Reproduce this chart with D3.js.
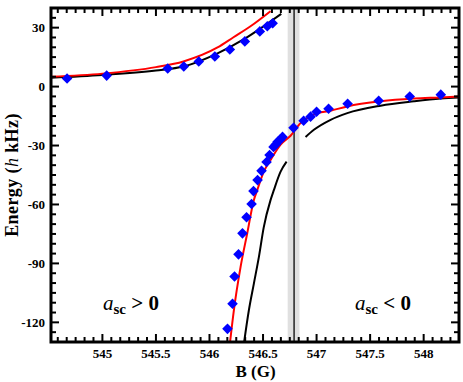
<!DOCTYPE html>
<meta charset="utf-8">
<script src="https://d3js.org/d3.v7.min.js"></script>
<style>
  body { margin: 0; background: #fff; }
  text { font-family: "Liberation Serif", "DejaVu Serif", serif; font-weight: bold; }
</style>
<div id="chart"></div>
<script>

// measured points (B in G, energy in h kHz)
var upperB = [544.67, 545.04, 545.61, 545.76, 545.90, 546.05, 546.19, 546.33, 546.47, 546.54, 546.59];
var upperE = [4.1, 5.6, 9.2, 10.2, 12.8, 15.3, 18.9, 23.0, 28.1, 30.7, 32.2];

var lowerB = [546.168, 546.215, 546.234, 546.271, 546.308, 546.346, 546.393, 546.411, 546.449, 546.486,
              546.533, 546.561, 546.598, 546.62, 546.636, 546.66, 546.682, 546.785, 546.879, 546.944,
              547.0, 547.112, 547.29, 547.58, 547.87, 548.16];
var lowerE = [-123.3, -110.5, -96.7, -85.4, -74.7, -66.5, -59.8, -53.2, -47.6, -42.9,
              -38.4, -34.8, -30.7, -29.5, -28.1, -27.0, -25.6, -21.0, -17.4, -15.3,
              -12.8, -11.3, -8.7, -7.2, -5.1, -4.1];

// theory curves
var redUpper = [[544.52, 5.0], [545.0, 6.6], [545.5, 9.9], [545.757, 12.8], [546.075, 19.9],
                [546.224, 25.1], [546.383, 30.7], [546.57, 38.4]];
var blackUpper = [[544.52, 4.5], [545.0, 5.9], [545.5, 8.2], [545.757, 10.2], [546.075, 16.9],
                  [546.318, 24.0], [546.505, 30.7], [546.67, 37.0]];
var redLower = [[546.19, -131], [546.227, -114.1], [546.29, -91.9], [546.352, -74.8], [546.414, -57.8],
                [546.446, -52.7], [546.507, -43.3], [546.57, -37.3], [546.664, -29.5], [546.757, -25.0],
                [546.85, -18.6], [546.972, -14.3], [547.131, -12.3], [547.287, -10.1], [547.598, -7.5],
                [547.907, -6.1], [548.159, -5.5], [548.346, -5.0]];
var blackLowerLeft = [[546.321, -131], [546.367, -114.1], [546.414, -100.4], [546.461, -86.8],
                      [546.507, -71.5], [546.57, -57.8], [546.601, -52.7], [546.664, -43.3], [546.72, -38.2]];
var blackLowerRight = [[546.897, -25.7], [546.975, -22.0], [547.131, -16.9], [547.287, -13.5],
                       [547.598, -9.7], [547.909, -7.5], [548.159, -6.1], [548.346, -5.5]];

var resonanceB = 546.79;
var bandB = [546.73, 546.84];

var xTicks = [545, 545.5, 546, 546.5, 547, 547.5, 548];
var yTicks = [-120, -90, -60, -30, 0, 30];

var margin = {top: 8, right: 4, bottom: 40, left: 51},
    width = 463 - margin.left - margin.right,
    height = 382 - margin.top - margin.bottom;

var svg = d3.select("#chart").append("svg")
    .attr("width", 463)
    .attr("height", 382)
  .append("g")
    .attr("transform", "translate(" + margin.left + "," + margin.top + ")");

var x = d3.scaleLinear().domain([544.52, 548.33]).range([0, width]);
var y = d3.scaleLinear().domain([-130, 40]).range([height, 0]);

svg.append("clipPath").attr("id", "clip")
  .append("rect").attr("width", width).attr("height", height);

// shaded resonance band
svg.append("rect")
    .attr("x", x(bandB[0]))
    .attr("width", x(bandB[1]) - x(bandB[0]))
    .attr("y", 0)
    .attr("height", height)
    .attr("fill", "#e0e0e0");
svg.append("line")
    .attr("x1", x(resonanceB)).attr("x2", x(resonanceB))
    .attr("y1", 0).attr("y2", height)
    .attr("stroke", "#222").attr("stroke-width", 1.5);

var line = d3.line()
    .x(function(d) { return x(d[0]); })
    .y(function(d) { return y(d[1]); })
    .curve(d3.curveMonotoneX);

var curves = svg.append("g").attr("clip-path", "url(#clip)");
[blackUpper, blackLowerLeft, blackLowerRight].forEach(function(c) {
  curves.append("path").attr("d", line(c))
    .attr("fill", "none").attr("stroke", "#000").attr("stroke-width", 2);
});
[redUpper, redLower].forEach(function(c) {
  curves.append("path").attr("d", line(c))
    .attr("fill", "none").attr("stroke", "#ff0000").attr("stroke-width", 2);
});

// data diamonds
var pts = upperB.map(function(b, i) { return [b, upperE[i]]; })
  .concat(lowerB.map(function(b, i) { return [b, lowerE[i]]; }));
var diamond = d3.symbol().type(d3.symbolSquare).size(56);
svg.append("g").selectAll("path")
  .data(pts)
  .enter().append("path")
    .attr("d", diamond)
    .attr("transform", function(d) { return "translate(" + x(d[0]) + "," + y(d[1]) + ") rotate(45)"; })
    .attr("fill", "#0000ff");

// axes with inward ticks on all four sides
function minorTicks(scale, step, n) {
  var dom = scale.domain(), out = [];
  var s0 = Math.ceil(dom[0] / (step / n) - 1e-6);
  for (var k = s0; k * step / n <= dom[1] + 1e-9; k++) out.push(k * step / n);
  return out;
}
var xMinor = minorTicks(x, 0.5, 6);
var yMinor = minorTicks(y, 30, 6);

var tickG = svg.append("g").attr("stroke", "#000").attr("stroke-width", 2);
xMinor.forEach(function(v) {
  var major = xTicks.some(function(t) { return Math.abs(t - v) < 1e-6; });
  var len = major ? 8 : 5;
  tickG.append("line").attr("x1", x(v)).attr("x2", x(v)).attr("y1", height).attr("y2", height - len);
  tickG.append("line").attr("x1", x(v)).attr("x2", x(v)).attr("y1", 0).attr("y2", len);
});
yMinor.forEach(function(v) {
  var major = yTicks.some(function(t) { return Math.abs(t - v) < 1e-6; });
  var len = major ? 8 : 5;
  tickG.append("line").attr("y1", y(v)).attr("y2", y(v)).attr("x1", 0).attr("x2", len);
  tickG.append("line").attr("y1", y(v)).attr("y2", y(v)).attr("x1", width).attr("x2", width - len);
});

svg.append("rect")
    .attr("width", width).attr("height", height)
    .attr("fill", "none").attr("stroke", "#000").attr("stroke-width", 3);

svg.append("g").selectAll("text")
  .data(xTicks).enter().append("text")
    .attr("x", function(d) { return x(d); })
    .attr("y", height + 16)
    .attr("text-anchor", "middle")
    .style("font-size", "13px")
    .text(function(d) { return d; });

svg.append("g").selectAll("text")
  .data(yTicks).enter().append("text")
    .attr("x", -6)
    .attr("y", function(d) { return y(d) + 4.5; })
    .attr("text-anchor", "end")
    .style("font-size", "13px")
    .text(function(d) { return d; });

// axis titles
svg.append("text")
    .attr("x", x(546.43)).attr("y", height + 35)
    .attr("text-anchor", "middle")
    .style("font-size", "17px")
    .text("B (G)");

var yl = svg.append("text")
    .attr("transform", "translate(" + (-33) + "," + 167 + ") rotate(-90)")
    .attr("text-anchor", "middle")
    .style("font-size", "18px")
    .style("letter-spacing", "0.4px");
yl.append("tspan").text("Energy (");
yl.append("tspan").style("font-style", "italic").style("font-weight", "normal").text("h");
yl.append("tspan").text(" kHz)");

// regime labels
function regime(xpos, sign) {
  var t = svg.append("text").attr("x", xpos).attr("y", y(-113.5)).style("font-size", "21px");
  t.append("tspan").style("font-style", "italic").style("font-weight", "normal").text("a");
  t.append("tspan").attr("dy", 4).style("font-size", "15px").text("sc");
  t.append("tspan").attr("dy", -4).text(" " + sign + " 0");
}
regime(52, ">");
regime(304, "<");

</script>
